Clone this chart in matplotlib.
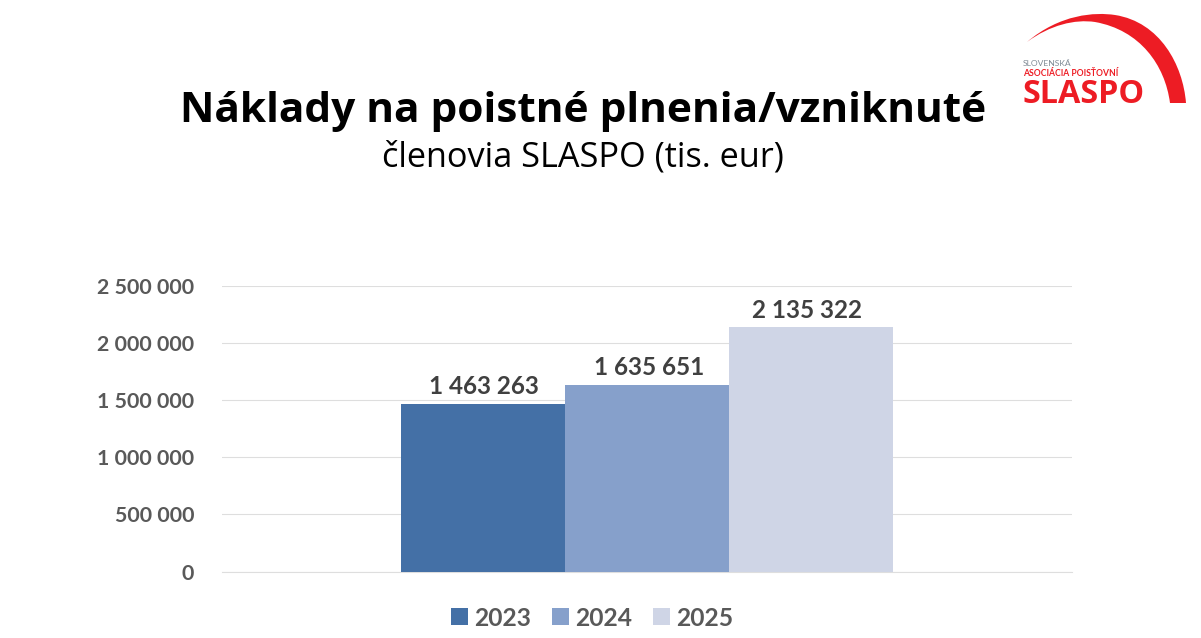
# -*- coding: utf-8 -*-
import numpy as np
import matplotlib
matplotlib.use("Agg")
import matplotlib.pyplot as plt
from matplotlib.path import Path
from matplotlib.patches import PathPatch

years = ["2023", "2024", "2025"]
values = [1463263, 1635651, 2135322]
value_labels = ["1 463 263", "1 635 651", "2 135 322"]
colors = ["#4470A6", "#86A0CB", "#CFD5E6"]
yticks = [0, 500000, 1000000, 1500000, 2000000, 2500000]
ytick_labels = ["0", "500 000", "1 000 000", "1 500 000", "2 000 000", "2 500 000"]

W, H = 1201, 638
plt.rcParams['font.family'] = ['Lato', 'DejaVu Sans']

fig = plt.figure(figsize=(W / 100, H / 100), dpi=100, facecolor="white")

# axes placed in pixels of the reference
ax = fig.add_axes([222 / W, 1 - 571.6 / H, 850 / W, 285.8 / H])
offsets = np.arange(len(years)) - 1
# labels were hand placed in the original slide, offsets in points
nudges = [(0.5, 7.5), (1.5, 7), (-3, 7)]
for off, v, c, lab, yr, nudge in zip(offsets, values, colors, value_labels, years, nudges):
    ax.bar(off, v, width=1.0, color=c, label=yr, zorder=3)
    ax.annotate(lab, (off, v), xytext=nudge, textcoords="offset points", ha="center", va="baseline",
                fontsize=17.5, fontweight="bold", color="#404040")

ax.set_xlim(-2.59, 2.59)
ax.set_ylim(0, 2500000)
ax.set_xticks([])
ax.set_yticks(yticks)
ax.set_yticklabels(ytick_labels, fontsize=15.4, fontweight="bold", color="#595959")
ax.tick_params(axis="y", length=0, pad=20)
ax.grid(axis="y", color="#DEDEDE", linewidth=0.8, zorder=0)
ax.set_axisbelow(True)
for s in ["top", "left", "right"]:
    ax.spines[s].set_visible(False)
ax.spines["bottom"].set_color("#DEDEDE")
ax.spines["bottom"].set_linewidth(0.8)

leg = ax.legend(loc="center", bbox_to_anchor=(592 / W, 1 - 618 / H),
                bbox_transform=fig.transFigure, ncol=3, frameon=False,
                handlelength=0.69, handleheight=0.69, handletextpad=0.24, columnspacing=0.86,
                prop={"size": 17.7, "weight": "bold"}, labelcolor="#595959")

# title
fig.text(583 / W, 1 - 111 / H, "Náklady na poistné plnenia/vzniknuté", ha="center", va="center",
         fontsize=30.5, fontweight="bold", color="black", family=["Open Sans", "DejaVu Sans"])
fig.text(583 / W, 1 - 158 / H, "členovia SLASPO (tis. eur)", ha="center", va="center",
         fontsize=24.7, color="black", family=["Open Sans", "DejaVu Sans"])

# logo, drawn in pixel coordinates
logo = fig.add_axes([0, 0, 1, 1], facecolor="none")
logo.set_xlim(0, W)
logo.set_ylim(H, 0)
logo.axis("off")
verts = [(1027, 42), (1060, 14), (1095, 12), (1115, 15),
         (1160, 22), (1183, 65), (1186, 103),
         (1170, 103),
         (1165, 65), (1140, 30), (1095, 22),
         (1075, 19), (1050, 25), (1027, 42)]
codes = [Path.MOVETO, Path.CURVE4, Path.CURVE4, Path.CURVE4,
         Path.CURVE4, Path.CURVE4, Path.CURVE4,
         Path.LINETO,
         Path.CURVE4, Path.CURVE4, Path.CURVE4,
         Path.CURVE4, Path.CURVE4, Path.CURVE4]
logo.add_patch(PathPatch(Path(verts, codes), facecolor="#ED1C24", edgecolor="none"))
logo.text(1023, 66, "SLOVENSKÁ", fontsize=6.1, color="#7F8A94", va="baseline", ha="left")
logo.text(1023, 76.5, "ASOCIÁCIA POISŤOVNÍ", fontsize=6.2, fontweight="bold", color="#ED1C24",
          va="baseline", ha="left")
logo.text(1022, 103, "SLASPO", fontsize=23.3, fontweight="bold", color="#ED1C24", va="baseline", ha="left",
          family=["Open Sans", "DejaVu Sans"])

fig.savefig("out.png", dpi=100)
